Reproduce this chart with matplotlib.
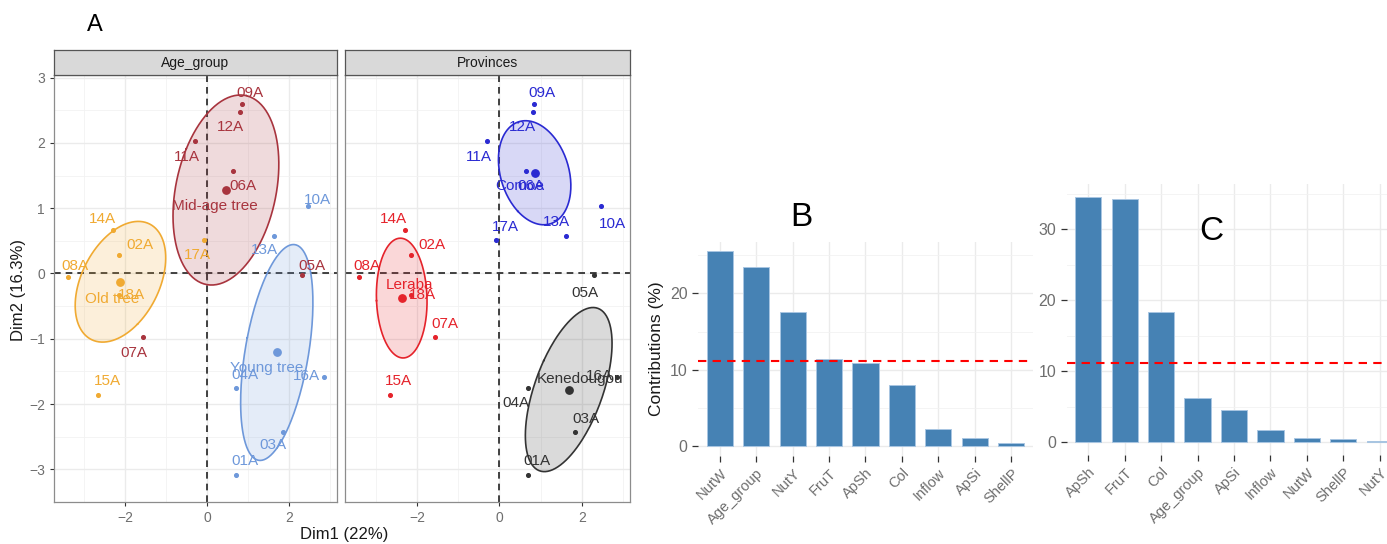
import matplotlib
matplotlib.use('Agg')
import matplotlib.pyplot as plt
import numpy as np

plt.rcParams['font.family'] = ['Liberation Sans', 'DejaVu Sans']

W, H = 1387, 544

# individuals on the first two dimensions
ind_names = ['01A', '02A', '03A', '04A', '05A', '06A', '07A', '08A', '09A',
             '10A', '11A', '12A', '13A', '14A', '15A', '16A', '17A', '18A']
dim1 = [0.70, -2.15, 1.84, 0.70, 2.30, 0.63, -1.56, -3.39, 0.84,
        2.45, -0.30, 0.80, 1.62, -2.29, -2.66, 2.84, -0.08, -2.15]
dim2 = [-3.09, 0.29, -2.43, -1.76, -0.02, 1.57, -0.98, -0.05, 2.60,
        1.03, 2.03, 2.47, 0.58, 0.67, -1.86, -1.59, 0.52, -0.33]
age_group = ['Young tree', 'Old tree', 'Young tree', 'Young tree', 'Mid-age tree',
             'Mid-age tree', 'Mid-age tree', 'Old tree', 'Mid-age tree',
             'Young tree', 'Mid-age tree', 'Mid-age tree', 'Young tree',
             'Old tree', 'Old tree', 'Young tree', 'Old tree', 'Old tree']
province = ['Kenedougou', 'Leraba', 'Kenedougou', 'Kenedougou', 'Kenedougou',
            'Comoe', 'Leraba', 'Leraba', 'Comoe', 'Comoe', 'Comoe', 'Comoe',
            'Comoe', 'Leraba', 'Leraba', 'Kenedougou', 'Comoe', 'Leraba']

age_levels = ['Mid-age tree', 'Old tree', 'Young tree']
prov_levels = ['Comoe', 'Kenedougou', 'Leraba']

# contributions of the variables (%)
vars_b = ['NutW', 'Age_group', 'NutY', 'FruT', 'ApSh', 'Col', 'Inflow', 'ApSi', 'ShellP']
contrib_b = [25.5, 23.5, 17.6, 11.4, 10.9, 8.0, 2.2, 1.1, 0.35]
vars_c = ['ApSh', 'FruT', 'Col', 'Age_group', 'ApSi', 'Inflow', 'NutW', 'ShellP', 'NutY']
contrib_c = [34.6, 34.3, 18.4, 6.3, 4.6, 1.7, 0.55, 0.5, 0.15]

age_colors = {'Mid-age tree': '#A8343E', 'Old tree': '#F0AA32', 'Young tree': '#6E98DA'}
prov_colors = {'Comoe': '#2A2AD2', 'Kenedougou': '#333333', 'Leraba': '#E5232B'}

# label offsets in pixels (dx, dy)
lab_off = {'01A': (9, 14), '02A': (21, 10), '03A': (-10, -13), '04A': (9, 13),
           '05A': (10, 9), '06A': (10, -15), '07A': (-10, -16), '08A': (7, 11),
           '09A': (8, 11), '10A': (10, 6), '11A': (-8, -16), '12A': (-10, -15),
           '13A': (-9, -14), '14A': (-11, 11), '15A': (9, 14), '16A': (-17, 1),
           '17A': (-7, -15), '18A': (12, 0)}
lab_off_prov = dict(lab_off)
lab_off_prov.update({'13A': (-10, 14), '17A': (9, 13), '10A': (12, -18),
                     '05A': (-10, -18), '07A': (10, 13), '04A': (-12, -15),
                     '03A': (10, 13), '06A': (5, -15)})
mean_off = {'Mid-age tree': (-11, -16), 'Old tree': (-8, -17), 'Young tree': (-10, -16),
            'Comoe': (-15, -13), 'Leraba': (8, 13), 'Kenedougou': (11, 11)}

fig = plt.figure(figsize=(W / 100, H / 100), dpi=100)


def ax_px(x0, y0, x1, y1):
    return fig.add_axes([x0 / W, 1 - y1 / H, (x1 - x0) / W, (y1 - y0) / H])


x = np.array(dim1)
y = np.array(dim2)


def facet(x0, x1, groups, levels, colors, title, offs, first):
    ax = ax_px(x0, 75, x1, 502)
    ax.set_xlim(-3.74, 3.16)
    ax.set_ylim(-3.36, 3.04)
    ax.set_xticks([-2, 0, 2])
    ax.set_xticks([-3, -1, 1, 3], minor=True)
    ax.set_yticks([-3, -2, -1, 0, 1, 2, 3])
    ax.set_yticks(np.arange(-3.5, 3.01, 1.0), minor=True)
    ax.grid(which='major', color='#EBEBEB', lw=1.0)
    ax.grid(which='minor', color='#F2F2F2', lw=0.6)
    ax.set_axisbelow(True)
    for s in ax.spines.values():
        s.set_color('#8C8C8C')
        s.set_linewidth(0.9)
    ax.tick_params(which='minor', length=0)
    ax.tick_params(which='major', length=3, color='#333333', labelcolor='#6E6E6E',
                   labelsize=10, width=0.8)
    if not first:
        ax.tick_params(left=False, labelleft=False)
    ax.axhline(0, color='#222222', ls=(0, (4, 3)), lw=1.2, zorder=1.5)
    ax.axvline(0, color='#222222', ls=(0, (4, 3)), lw=1.2, zorder=1.5)

    g = np.array(groups)
    t = np.linspace(0, 2 * np.pi, 200)
    circ = np.vstack([np.cos(t), np.sin(t)])
    for lev in levels:
        m = g == lev
        c = colors[lev]
        pts = np.vstack([x[m], y[m]])
        mu = pts.mean(axis=1)
        cov = np.cov(pts)
        vals, vecs = np.linalg.eigh(cov)
        k = np.sqrt(5.991 / m.sum())
        ell = vecs @ (np.sqrt(vals)[:, None] * circ) * k + mu[:, None]
        ax.fill(ell[0], ell[1], color=c, alpha=0.18, lw=0, zorder=2)
        ax.plot(ell[0], ell[1], color=c, lw=1.2, zorder=2.5)
        ax.scatter(x[m], y[m], s=7, color=c, zorder=3)
        ax.scatter([mu[0]], [mu[1]], s=28, color=c, zorder=3)
        ax.annotate(lev, (mu[0], mu[1]), xytext=mean_off[lev], textcoords='offset pixels',
                    ha='center', va='center', color=c, fontsize=11, zorder=4)
    for i, name in enumerate(ind_names):
        ax.annotate(name, (x[i], y[i]), xytext=offs[name], textcoords='offset pixels',
                    ha='center', va='center', color=colors[groups[i]], fontsize=11,
                    zorder=4)

    st = ax_px(x0, 50, x1, 75)
    st.set_facecolor('#D9D9D9')
    st.set_xticks([])
    st.set_yticks([])
    for s in st.spines.values():
        s.set_color('#555555')
        s.set_linewidth(0.9)
    st.text(0.5, 0.5, title, ha='center', va='center', fontsize=10,
            color='#1A1A1A', transform=st.transAxes)
    return ax


facet(54, 337, age_group, age_levels, age_colors, 'Age_group', lab_off, True)
facet(345, 630, province, prov_levels, prov_colors, 'Provinces', lab_off_prov, False)

fig.text(344 / W, 1 - 535 / H, 'Dim1 (22%)', ha='center', va='center',
         fontsize=12, color='#1A1A1A')
fig.text(19 / W, 1 - 290 / H, 'Dim2 (16.3%)', ha='center', va='center',
         fontsize=12, color='#1A1A1A', rotation=90)


def bar_panel(x0, x1, y0, y1, names, vals, ylabel, yt):
    ax = ax_px(x0, y0, x1, y1)
    pos = np.arange(1, len(names) + 1)
    top = max(vals)
    ax.bar(pos, vals, width=0.72, color='#4682B4', edgecolor='#A9C6E2', lw=0.7, zorder=2)
    ax.axhline(100 / len(names), color='red', ls=(0, (4, 3)), lw=1.5, zorder=3)
    ax.set_xlim(0.4, len(names) + 0.6)
    ax.set_ylim(-0.05 * top, 1.05 * top)
    ax.set_xticks(pos)
    ax.set_xticklabels(names, rotation=45, ha='right', va='top', rotation_mode='anchor')
    ax.set_yticks(yt)
    ax.set_yticks(np.arange(5, 1.05 * top, 10), minor=True)
    ax.grid(which='major', color='#EBEBEB', lw=1.0)
    ax.grid(which='minor', axis='y', color='#F2F2F2', lw=0.6)
    ax.set_axisbelow(True)
    for s in ax.spines.values():
        s.set_visible(False)
    ax.tick_params(which='minor', length=0)
    ax.tick_params(which='major', length=4, color='#333333', labelcolor='#6E6E6E',
                   width=0.9)
    ax.tick_params(axis='y', labelsize=11.5)
    ax.tick_params(axis='x', labelsize=10.5)
    if ylabel:
        ax.set_ylabel(ylabel, fontsize=12.5, color='#1A1A1A', labelpad=4)
    return ax


bar_panel(698, 1033, 241.7, 455.7, vars_b, contrib_b, 'Contributions (%)', [0, 10, 20])
bar_panel(1066.5, 1401.5, 184.3, 454.6, vars_c, contrib_c, None, [0, 10, 20, 30])

fig.text(95 / W, 1 - 25 / H, 'A', ha='center', va='center', fontsize=17)
fig.text(801 / W, 1 - 218 / H, 'B', ha='center', va='center', fontsize=24)
fig.text(1211 / W, 1 - 232 / H, 'C', ha='center', va='center', fontsize=24)

fig.savefig('out.png', dpi=100)
